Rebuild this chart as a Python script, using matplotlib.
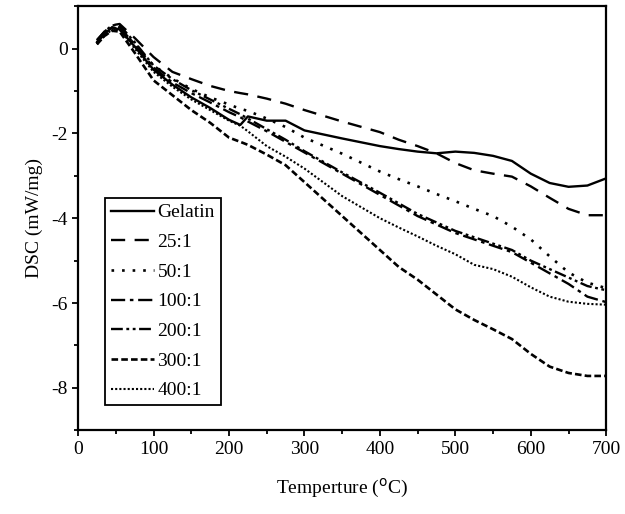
import matplotlib
matplotlib.use("Agg")
import matplotlib.pyplot as plt
from matplotlib.ticker import MultipleLocator

plt.rcParams['font.family'] = ['Liberation Serif', 'DejaVu Serif']
plt.rcParams['axes.unicode_minus'] = False

# --- DSC data (temperature in C, DSC in mW/mg) ---
temps = [25, 35, 45, 55, 75, 100, 125, 150, 175, 200, 215, 225, 250, 275,
         300, 350, 400, 425, 450, 475, 500, 525, 550, 575, 600, 625, 650, 675, 700]

gelatin = [0.15, 0.35, 0.50, 0.45, 0.05, -0.50, -0.85, -1.15, -1.40, -1.68, -1.80, -1.60, -1.70, -1.70,
           -1.93, -2.12, -2.30, -2.37, -2.43, -2.47, -2.43, -2.46, -2.53, -2.65, -2.95, -3.17, -3.26, -3.23, -3.06]
r25 = [0.20, 0.40, 0.55, 0.58, 0.25, -0.20, -0.55, -0.72, -0.88, -1.00, -1.05, -1.08, -1.18, -1.30,
       -1.45, -1.72, -1.97, -2.15, -2.30, -2.47, -2.70, -2.87, -2.95, -3.02, -3.25, -3.52, -3.78, -3.93, -3.93]
r50 = [0.15, 0.30, 0.45, 0.50, 0.10, -0.40, -0.70, -0.95, -1.15, -1.32, -1.42, -1.47, -1.65, -1.85,
       -2.10, -2.48, -2.90, -3.08, -3.25, -3.43, -3.60, -3.78, -3.95, -4.20, -4.50, -4.90, -5.28, -5.52, -5.65]
r100 = [0.15, 0.35, 0.50, 0.50, 0.10, -0.45, -0.80, -1.05, -1.27, -1.50, -1.62, -1.72, -1.95, -2.20,
        -2.45, -2.95, -3.45, -3.70, -3.95, -4.15, -4.35, -4.50, -4.65, -4.80, -5.05, -5.30, -5.55, -5.85, -5.98]
r200 = [0.20, 0.40, 0.55, 0.55, 0.15, -0.40, -0.72, -0.98, -1.20, -1.42, -1.55, -1.65, -1.90, -2.15,
        -2.42, -2.92, -3.40, -3.65, -3.90, -4.10, -4.30, -4.45, -4.60, -4.75, -5.00, -5.20, -5.40, -5.60, -5.70]
r300 = [0.10, 0.30, 0.42, 0.40, -0.10, -0.75, -1.10, -1.45, -1.75, -2.10, -2.20, -2.27, -2.50, -2.75,
        -3.15, -3.95, -4.75, -5.15, -5.45, -5.80, -6.15, -6.40, -6.62, -6.85, -7.20, -7.50, -7.65, -7.72, -7.72]
r400 = [0.10, 0.30, 0.45, 0.45, 0.00, -0.55, -0.90, -1.20, -1.45, -1.70, -1.82, -1.95, -2.30, -2.55,
        -2.83, -3.48, -4.00, -4.22, -4.43, -4.65, -4.85, -5.10, -5.20, -5.38, -5.63, -5.85, -5.97, -6.02, -6.04]

labels = ["Gelatin", "25:1", "50:1", "100:1", "200:1", "300:1", "400:1"]
series = [gelatin, r25, r50, r100, r200, r300, r400]
styles = ["-", (0, (6, 4)), (0, (1, 3)), (0, (6, 2, 1.5, 2)),
          (0, (5, 1.5, 1.2, 1.5, 1.2, 1.5)), (0, (2.5, 1.2)), (0, (1, 1))]
widths = [1.7, 1.7, 1.9, 1.7, 1.7, 1.9, 1.5]

fig = plt.figure(figsize=(6.25, 5.14), dpi=100)
ax = fig.add_axes([0.125, 0.163, 0.845, 0.825])

for lab, vals, ls, lw in zip(labels, series, styles, widths):
    ax.plot(temps, vals, color='black', linestyle=ls, linewidth=lw, label=lab)

ax.set_xlim(0, 700)
ax.set_ylim(-9, 1)
ax.xaxis.set_major_locator(MultipleLocator(100))
ax.xaxis.set_minor_locator(MultipleLocator(50))
ax.yaxis.set_major_locator(MultipleLocator(2))
ax.yaxis.set_minor_locator(MultipleLocator(1))
ax.tick_params(which='both', direction='out', top=False, right=False,
               labelsize=14, width=1.3)
ax.tick_params(which='major', length=4)
ax.tick_params(which='minor', length=3)
for sp in ax.spines.values():
    sp.set_linewidth(1.6)

ax.set_xlabel("Temperture ($^{\\rm o}$C)", fontsize=14, labelpad=14)
ax.set_ylabel("DSC (mW/mg)", fontsize=14, labelpad=6)

leg = ax.legend(loc='lower left', bbox_to_anchor=(0.051, 0.059), fontsize=14,
                frameon=True, fancybox=False, edgecolor='black', framealpha=1,
                handlelength=2.2, handletextpad=0.2, labelspacing=0.62,
                borderpad=0.3, borderaxespad=0)
leg.get_frame().set_linewidth(1.3)

fig.savefig("out.png", dpi=100)
